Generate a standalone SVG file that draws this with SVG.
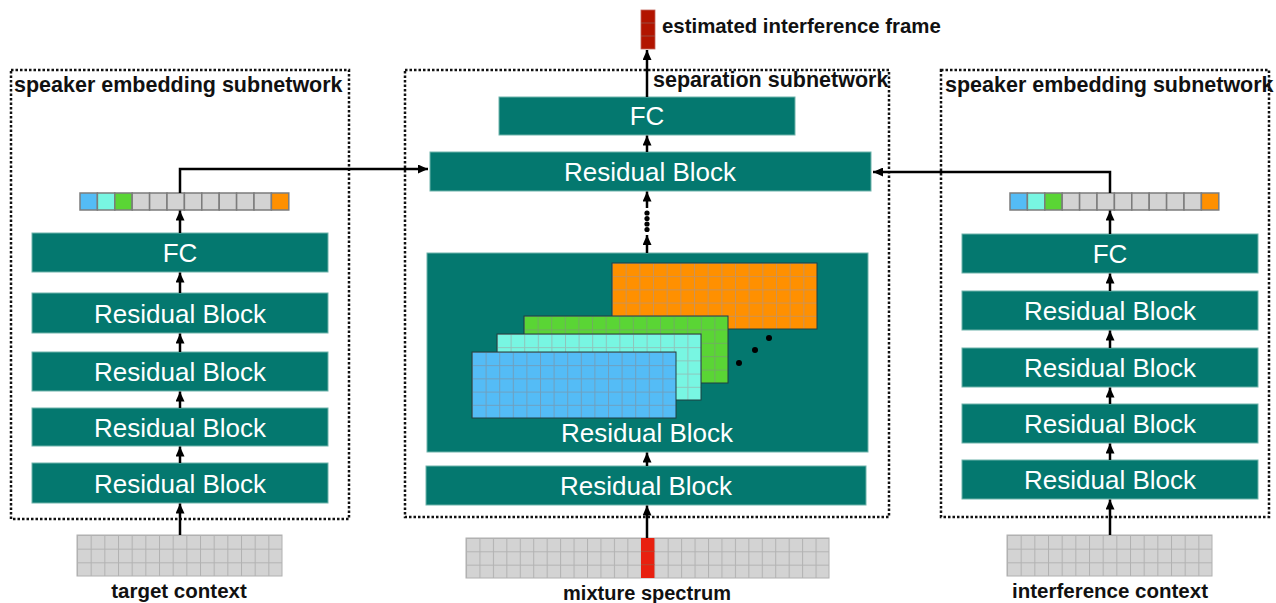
<svg xmlns="http://www.w3.org/2000/svg" xmlns:xlink="http://www.w3.org/1999/xlink" width="1276" height="603" viewBox="0 0 1276 603">
  <style>
    .block { fill: #04786f; stroke: #6fb3ab; stroke-width: 1; }
    .btxt { font-family: "Liberation Sans", Arial, Helvetica, sans-serif; font-size: 26px; fill: #ffffff; text-anchor: middle; }
    .title { font-family: "Liberation Sans", Arial, Helvetica, sans-serif; font-weight: bold; font-size: 21.5px; fill: #111111; }
    .cap { font-family: "Liberation Sans", Arial, Helvetica, sans-serif; font-weight: bold; font-size: 20.5px; fill: #111111; text-anchor: middle; }
    .frame { fill: none; stroke: #111111; stroke-width: 2.5; stroke-dasharray: 2.5 2; }
    .conn { fill: none; stroke: #000000; stroke-width: 2.5; }
    .arrow { fill: none; stroke: #000000; stroke-width: 2.5; marker-end: url(#head); }
    .cellOut { fill: none; stroke: #b0b0b0; stroke-width: 1; }
    .fmOut { fill: none; stroke: #1f3f40; stroke-width: 1; }
    .vcell { stroke: #7c7c7c; stroke-width: 1.5; }
  </style>
  <defs>
    <marker id="head" markerUnits="userSpaceOnUse" markerWidth="10" markerHeight="9" refX="10" refY="4.5" orient="auto">
      <path d="M0,0 L10,4.5 L0,9 z" fill="#000000"/>
    </marker>
    <!-- cell grids: tile size follows the bounding box of the filled rect -->
    <pattern id="gGray15x3" patternUnits="objectBoundingBox" width="0.0666667" height="0.333333">
      <rect width="100" height="100" fill="#d3d3d3"/>
      <path d="M0,0 V100 M0,0 H100" stroke="#b2b2b2" stroke-width="2"/>
    </pattern>
    <pattern id="gGray27x3" patternUnits="objectBoundingBox" width="0.0370370" height="0.333333">
      <rect width="100" height="100" fill="#d3d3d3"/>
      <path d="M0,0 V100 M0,0 H100" stroke="#b2b2b2" stroke-width="2"/>
    </pattern>
    <pattern id="gOrange" patternUnits="objectBoundingBox" width="0.0666667" height="0.2">
      <rect width="100" height="100" fill="#ff9000"/>
      <path d="M0,0 V100 M0,0 H100" stroke="#c9935a" stroke-width="2"/>
    </pattern>
    <pattern id="gGreen" patternUnits="objectBoundingBox" width="0.0666667" height="0.2">
      <rect width="100" height="100" fill="#5ad535"/>
      <path d="M0,0 V100 M0,0 H100" stroke="#6fae60" stroke-width="2"/>
    </pattern>
    <pattern id="gCyan" patternUnits="objectBoundingBox" width="0.0666667" height="0.2">
      <rect width="100" height="100" fill="#78f6e2"/>
      <path d="M0,0 V100 M0,0 H100" stroke="#8fc4bb" stroke-width="2"/>
    </pattern>
    <pattern id="gBlue" patternUnits="objectBoundingBox" width="0.0666667" height="0.2">
      <rect width="100" height="100" fill="#54bcf6"/>
      <path d="M0,0 V100 M0,0 H100" stroke="#6f9fbd" stroke-width="2"/>
    </pattern>
    <!-- speaker embedding vector, 12 cells -->
    <g id="embVec">
      <rect class="vcell" x="0" y="0" width="17.4" height="17" fill="#54bcf6"/>
      <rect class="vcell" x="17.4" y="0" width="17.4" height="17" fill="#78f6e2"/>
      <rect class="vcell" x="34.8" y="0" width="17.4" height="17" fill="#5ad535"/>
      <rect class="vcell" x="52.2" y="0" width="17.4" height="17" fill="#d3d3d3"/>
      <rect class="vcell" x="69.6" y="0" width="17.4" height="17" fill="#d3d3d3"/>
      <rect class="vcell" x="87" y="0" width="17.4" height="17" fill="#d3d3d3"/>
      <rect class="vcell" x="104.4" y="0" width="17.4" height="17" fill="#d3d3d3"/>
      <rect class="vcell" x="121.8" y="0" width="17.4" height="17" fill="#d3d3d3"/>
      <rect class="vcell" x="139.2" y="0" width="17.4" height="17" fill="#d3d3d3"/>
      <rect class="vcell" x="156.6" y="0" width="17.4" height="17" fill="#d3d3d3"/>
      <rect class="vcell" x="174" y="0" width="17.4" height="17" fill="#d3d3d3"/>
      <rect class="vcell" x="191.4" y="0" width="17.4" height="17" fill="#ff9000"/>
    </g>
  </defs>

  <rect width="1276" height="603" fill="#ffffff"/>

  <!-- subnetwork frames -->
  <g id="target-subnetwork">
    <rect class="frame" x="11" y="70" width="338" height="449"/>
    <text class="title" x="14" y="92">speaker embedding subnetwork</text>
  </g>
  <g id="separation-subnetwork">
    <rect class="frame" x="405" y="70" width="484" height="447"/>
    <text class="title" x="653" y="87">separation subnetwork</text>
  </g>
  <g id="interference-subnetwork">
    <rect class="frame" x="941" y="70" width="328" height="447"/>
    <text class="title" x="945" y="92">speaker embedding subnetwork</text>
  </g>

  <!-- left column: target speaker embedding -->
  <g id="target-fc"><rect class="block" x="32" y="233" width="296" height="39"/><text class="btxt" x="180" y="262">FC</text></g>
  <g id="target-rb1"><rect class="block" x="32" y="293" width="296" height="40"/><text class="btxt" x="180" y="322.5">Residual Block</text></g>
  <g id="target-rb2"><rect class="block" x="32" y="352" width="296" height="39"/><text class="btxt" x="180" y="381">Residual Block</text></g>
  <g id="target-rb3"><rect class="block" x="32" y="408" width="296" height="38"/><text class="btxt" x="180" y="436.5">Residual Block</text></g>
  <g id="target-rb4"><rect class="block" x="32" y="463" width="296" height="40"/><text class="btxt" x="180" y="492.5">Residual Block</text></g>
  <g id="target-embedding"><use xlink:href="#embVec" x="80" y="193"/></g>
  <g id="target-context">
    <rect x="77" y="535" width="205" height="41" fill="url(#gGray15x3)"/>
    <rect class="cellOut" x="77" y="535" width="205" height="41"/>
    <text class="cap" x="179" y="598">target context</text>
  </g>

  <!-- right column: interference speaker embedding -->
  <g id="interf-fc"><rect class="block" x="962" y="234" width="296" height="39"/><text class="btxt" x="1110" y="263">FC</text></g>
  <g id="interf-rb1"><rect class="block" x="962" y="291" width="296" height="39"/><text class="btxt" x="1110" y="320">Residual Block</text></g>
  <g id="interf-rb2"><rect class="block" x="962" y="348" width="296" height="39"/><text class="btxt" x="1110" y="377">Residual Block</text></g>
  <g id="interf-rb3"><rect class="block" x="962" y="404" width="296" height="39"/><text class="btxt" x="1110" y="433">Residual Block</text></g>
  <g id="interf-rb4"><rect class="block" x="962" y="460" width="296" height="39"/><text class="btxt" x="1110" y="489">Residual Block</text></g>
  <g id="interf-embedding"><use xlink:href="#embVec" x="1010" y="193"/></g>
  <g id="interf-context">
    <rect x="1007" y="535" width="205" height="41" fill="url(#gGray15x3)"/>
    <rect class="cellOut" x="1007" y="535" width="205" height="41"/>
    <text class="cap" x="1110" y="598">interference context</text>
  </g>

  <!-- centre column: separation network -->
  <g id="sep-fc"><rect class="block" x="499" y="97" width="296" height="38"/><text class="btxt" x="647" y="125">FC</text></g>
  <g id="sep-rb-top"><rect class="block" x="430" y="152" width="441" height="39"/><text class="btxt" x="650" y="181">Residual Block</text></g>
  <g id="sep-rb-maps">
    <rect class="block" x="427" y="253" width="441" height="199"/>
    <rect x="612" y="263" width="205" height="66" fill="url(#gOrange)"/><rect class="fmOut" x="612" y="263" width="205" height="66"/>
    <rect x="524" y="316" width="204" height="67" fill="url(#gGreen)"/><rect class="fmOut" x="524" y="316" width="204" height="67"/>
    <rect x="497" y="334" width="204" height="66" fill="url(#gCyan)"/><rect class="fmOut" x="497" y="334" width="204" height="66"/>
    <rect x="472" y="352" width="204" height="66" fill="url(#gBlue)"/><rect class="fmOut" x="472" y="352" width="204" height="66"/>
    <circle cx="739" cy="363" r="3" fill="#000000"/>
    <circle cx="755" cy="350" r="3" fill="#000000"/>
    <circle cx="769" cy="338" r="3" fill="#000000"/>
    <text class="btxt" x="647" y="442">Residual Block</text>
  </g>
  <g id="sep-rb-bottom"><rect class="block" x="426" y="466" width="440" height="39"/><text class="btxt" x="646" y="495">Residual Block</text></g>
  <g id="mixture-spectrum">
    <rect x="466" y="538" width="363" height="40" fill="url(#gGray27x3)"/>
    <rect class="cellOut" x="466" y="538" width="363" height="40"/>
    <rect x="641" y="538" width="13.4" height="40" fill="#e8200f"/>
    <path d="M641,551.3 H654.4 M641,564.7 H654.4" stroke="#b8462f" stroke-width="1"/>
    <text class="cap" x="647" y="600" style="font-size:20px">mixture spectrum</text>
  </g>
  <g id="estimated-frame">
    <rect x="641" y="10" width="14" height="39" fill="#b21400"/>
    <path d="M641,23 H655 M641,36 H655" stroke="#9a4a3e" stroke-width="1"/>
    <rect x="641" y="10" width="14" height="39" fill="none" stroke="#c0645a" stroke-width="0.8"/>
    <text class="title" x="662" y="33" style="font-size:20.4px">estimated interference frame</text>
  </g>

  <!-- connectors -->
  <g id="connectors">
    <!-- target column -->
    <line class="arrow" x1="180" y1="535" x2="180" y2="503.5"/>
    <line class="arrow" x1="180" y1="463" x2="180" y2="446.5"/>
    <line class="arrow" x1="180" y1="408" x2="180" y2="391.5"/>
    <line class="arrow" x1="180" y1="352" x2="180" y2="333.5"/>
    <line class="arrow" x1="180" y1="293" x2="180" y2="272.5"/>
    <line class="arrow" x1="180" y1="233" x2="180" y2="210.5"/>
    <path class="arrow" d="M180,193 V169 H428"/>
    <!-- interference column -->
    <line class="arrow" x1="1110" y1="535" x2="1110" y2="499.5"/>
    <line class="arrow" x1="1110" y1="460" x2="1110" y2="443.5"/>
    <line class="arrow" x1="1110" y1="404" x2="1110" y2="387.5"/>
    <line class="arrow" x1="1110" y1="348" x2="1110" y2="330.5"/>
    <line class="arrow" x1="1110" y1="291" x2="1110" y2="273.5"/>
    <line class="arrow" x1="1110" y1="234" x2="1110" y2="210.5"/>
    <path class="arrow" d="M1110,193 V172 H873"/>
    <!-- separation column -->
    <line class="arrow" x1="647" y1="538" x2="647" y2="505.5"/>
    <line class="arrow" x1="647" y1="466" x2="647" y2="452.5"/>
    <line class="arrow" x1="647" y1="253" x2="647" y2="235"/>
    <circle cx="647" cy="213" r="2.6" fill="#000000"/>
    <circle cx="647" cy="218.5" r="2.6" fill="#000000"/>
    <circle cx="647" cy="224" r="2.6" fill="#000000"/>
    <circle cx="647" cy="229.5" r="2.6" fill="#000000"/>
    <line class="arrow" x1="647" y1="208" x2="647" y2="191.5"/>
    <line class="arrow" x1="647" y1="152" x2="647" y2="135.5"/>
    <line class="arrow" x1="647" y1="97" x2="647" y2="50"/>
  </g>
</svg>
